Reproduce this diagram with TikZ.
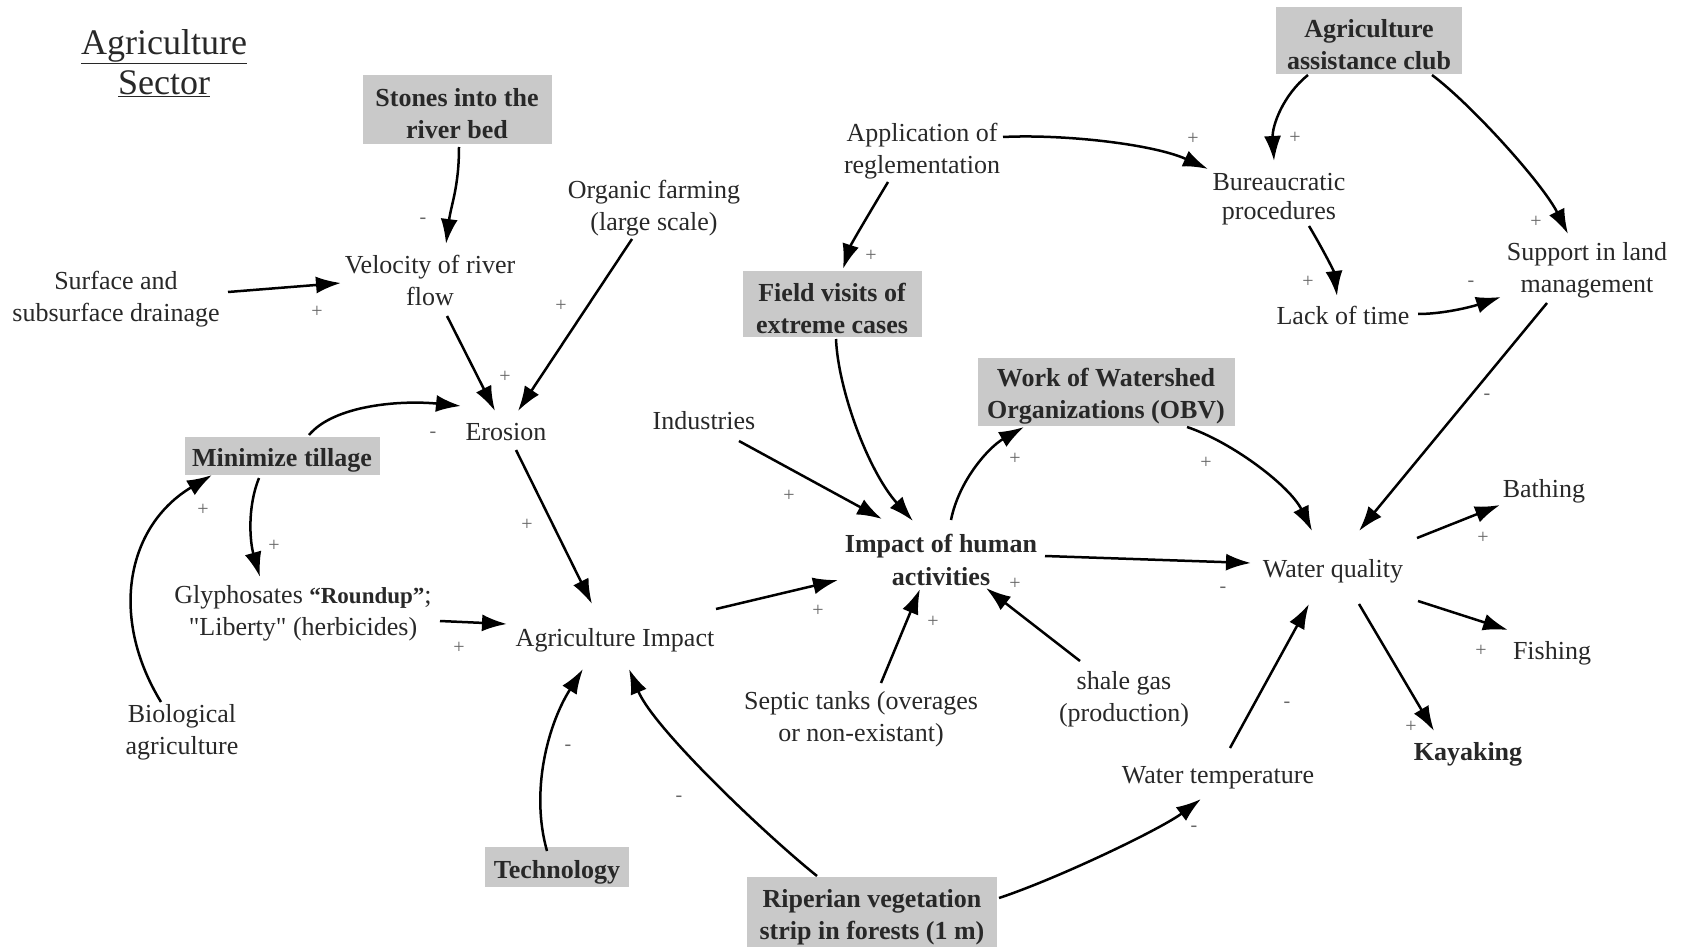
\documentclass[tikz,border=0pt]{standalone}
\usepackage{fontspec}
\setmainfont{Liberation Serif}[Ligatures=TeXOff]
\usetikzlibrary{arrows.meta,calc}
\definecolor{boxgray}{RGB}{201,201,201}
\definecolor{txt}{RGB}{40,40,40}
\tikzset{
  lbl/.style={align=center, inner sep=0pt, text=txt, font=\fontsize{26}{32}\selectfont},
  gbox/.style={inner sep=0pt, fill=boxgray},
  gtxt/.style={align=center, inner sep=0pt, text=txt, font=\fontsize{26}{32}\selectfont\bfseries, yshift=-4pt},
  arr/.style={-{Latex[length=25pt,width=17pt]}, line width=2.5pt, black},
  pol/.style={inner sep=0pt, text=black!60, font=\fontsize{20}{20}\selectfont},
}
\begin{document}
\begin{tikzpicture}[x=1pt,y=-1pt]
\useasboundingbox (0,0) rectangle (1681,947);
\fill[white] (0,0) rectangle (1681,947);

% title
\node[lbl, font=\fontsize{36}{40}\selectfont] (title) at (164,63) {\underline{Agriculture}\\\underline{Sector}};

% gray boxes
\node[gbox, minimum width=189, minimum height=69, label={[gtxt]center:{Stones into the\\river bed}}] (stones) at (457,110) {};
\node[gbox, minimum width=195, minimum height=38, label={[gtxt]center:{Minimize tillage}}] (mt) at (282,456) {};
\node[gbox, minimum width=179, minimum height=66, label={[gtxt]center:{Field visits of\\extreme cases}}] (field) at (832,304) {};
\node[gbox, minimum width=257, minimum height=68, label={[gtxt]center:{Work of Watershed\\Organizations (OBV)}}] (work) at (1106,392) {};
\node[gbox, minimum width=186, minimum height=67, label={[gtxt]center:{Agriculture\\assistance club}}] (club) at (1369,41) {};
\node[gbox, minimum width=144, minimum height=40, label={[gtxt,yshift=-1pt]center:{Technology}}] (tech) at (557,867) {};
\node[gbox, minimum width=250, minimum height=72, label={[gtxt]center:{Riperian vegetation\\strip in forests (1 m)}}] (rip) at (872,913) {};

% plain labels
\node[lbl] (surf) at (116,299) {Surface and\\subsurface drainage};
\node[lbl] (vel) at (430,280) {Velocity of river\\flow};
\node[lbl] (org) at (654,208) {Organic farming\\(large scale)};
\node[lbl] (ero) at (506,432) {Erosion};
\node[lbl] (ind) at (704,421) {Industries};
\node[lbl] (gly) at (303,613) {Glyphosates {\fontsize{23}{32}\selectfont\bfseries “Roundup”};\\"Liberty" (herbicides)};
\node[lbl] (agi) at (615,640) {Agriculture Impact};
\node[lbl] (bio) at (182,732) {Biological\\agriculture};
\node[lbl] (app) at (922,151) {Application of\\reglementation};
\node[lbl, font=\fontsize{26}{29}\selectfont] (bur) at (1279,199) {Bureaucratic\\procedures};
\node[lbl] (lack) at (1343,315) {Lack of time};
\node[lbl] (sup) at (1587,270) {Support in land\\management};
\node[lbl, font=\fontsize{26}{33}\selectfont\bfseries] (imp) at (941,560) {Impact of human\\activities};
\node[lbl] (wq) at (1333,571) {Water quality};
\node[lbl] (bath) at (1544,491) {Bathing};
\node[lbl] (fish) at (1552,653) {Fishing};
\node[lbl, font=\fontsize{26}{32}\selectfont\bfseries] (kay) at (1468,754) {Kayaking};
\node[lbl] (sep) at (861,719) {Septic tanks (overages\\or non-existant)};
\node[lbl] (shale) at (1124,699) {shale gas\\(production)};
\node[lbl] (wt) at (1218,778) {Water temperature};

% connectors
\draw[arr] ($(stones)+(2,37)$) .. controls ($(stones)+(2,77)$) and ($(vel)+(21,-75)$) .. ($(vel)+(16,-36)$);
\draw[arr] ($(surf)+(112,-7)$) -- ($(vel)+(-89,3)$);
\draw[arr] ($(vel)+(17,36)$) -- ($(ero)+(-11,-21)$);
\draw[arr] ($(org)+(-22,31)$) -- ($(ero)+(12,-21)$);
\draw[arr] ($(mt)+(27,-21)$) .. controls ($(mt)+(52,-51)$) and ($(ero)+(-105,-32)$) .. ($(ero)+(-45,-26)$);
\draw[arr] ($(mt)+(-23,22)$) .. controls ($(mt)+(-35,52)$) and ($(gly)+(-53,-71)$) .. ($(gly)+(-43,-36)$);
\draw[arr] ($(bio)+(-21,-30)$) .. controls ($(bio)+(-74,-117)$) and ($(mt)+(-154,69)$) .. ($(mt)+(-70,19)$);
\draw[arr] ($(ero)+(10,18)$) -- ($(agi)+(-23,-36)$);
\draw[arr] ($(gly)+(137,8)$) -- ($(agi)+(-108,-16)$);
\draw[arr] ($(tech)+(-10,-16)$) .. controls ($(tech)+(-27,-76)$) and ($(agi)+(-67,84)$) .. ($(agi)+(-32,29)$);
\draw[arr] ($(rip)+(-55,-37)$) .. controls ($(rip)+(-105,-77)$) and ($(agi)+(39,89)$) .. ($(agi)+(14,29)$);
\draw[arr] ($(agi)+(101,-31)$) -- ($(imp)+(-103,20)$);
\draw[arr] ($(ind)+(35,20)$) -- ($(imp)+(-59,-41)$);
\draw[arr] ($(field)+(4,35)$) .. controls ($(field)+(6,85)$) and ($(imp)+(-73,-89)$) .. ($(imp)+(-28,-39)$);
\draw[arr] ($(sep)+(20,-36)$) -- ($(imp)+(-21,29)$);
\draw[arr] ($(shale)+(-44,-38)$) -- ($(imp)+(45,28)$);
\draw[arr] ($(imp)+(10,-40)$) .. controls ($(imp)+(18,-80)$) and ($(work)+(-117,55)$) .. ($(work)+(-82,35)$);
\draw[arr] ($(work)+(81,35)$) .. controls ($(work)+(126,50)$) and ($(wq)+(-43,-85)$) .. ($(wq)+(-21,-40)$);
\draw[arr] ($(imp)+(104,-4)$) -- ($(wq)+(-82,-8)$);
\draw[arr] ($(sup)+(-40,33)$) -- ($(wq)+(26,-40)$);
\draw[arr] ($(wt)+(12,-30)$) -- ($(wq)+(-24,33)$);
\draw[arr] ($(rip)+(127,-15)$) .. controls ($(rip)+(187,-35)$) and ($(wt)+(-57,51)$) .. ($(wt)+(-17,21)$);
\draw[arr] ($(wq)+(84,-33)$) -- ($(bath)+(-44,14)$);
\draw[arr] ($(wq)+(85,30)$) -- ($(fish)+(-44,-23)$);
\draw[arr] ($(wq)+(26,33)$) -- ($(kay)+(-34,-23)$);
\draw[arr] ($(app)+(81,-14)$) .. controls ($(app)+(141,-17)$) and ($(bur)+(-126,-55)$) .. ($(bur)+(-71,-30)$);
\draw[arr] ($(app)+(-34,31)$) .. controls ($(app)+(-49,56)$) and ($(field)+(19,-60)$) .. ($(field)+(11,-35)$);
\draw[arr] ($(club)+(-61,34)$) .. controls ($(club)+(-86,54)$) and ($(bur)+(-7,-73)$) .. ($(bur)+(-5,-38)$);
\draw[arr] ($(club)+(63,34)$) .. controls ($(club)+(103,64)$) and ($(sup)+(-44,-86)$) .. ($(sup)+(-19,-36)$);
\draw[arr] ($(bur)+(30,27)$) .. controls ($(bur)+(42,47)$) and ($(lack)+(-9,-44)$) .. ($(lack)+(-6,-19)$);
\draw[arr] ($(lack)+(75,-1)$) .. controls ($(lack)+(100,-1)$) and ($(sup)+(-116,37)$) .. ($(sup)+(-86,27)$);

% polarity signs
\node[pol] (p1) at (423,221) {-};
\node[pol] (p2) at (317,312) {+};
\node[pol] (p3) at (505,377) {+};
\node[pol] (p4) at (561,306) {+};
\node[pol] (p5) at (433,435) {-};
\node[pol] (p6) at (274,546) {+};
\node[pol] (p7) at (203,510) {+};
\node[pol] (p8) at (527,525) {+};
\node[pol] (p9) at (459,648) {+};
\node[pol] (p10) at (568,748) {-};
\node[pol] (p11) at (679,799) {-};
\node[pol] (p12) at (818,611) {+};
\node[pol] (p13) at (789,496) {+};
\node[pol] (p15) at (933,622) {+};
\node[pol] (p16) at (1015,584) {+};
\node[pol] (p17) at (1015,459) {+};
\node[pol] (p18) at (1206,463) {+};
\node[pol] (p19) at (1223,590) {-};
\node[pol] (p20) at (1487,397) {-};
\node[pol] (p21) at (1287,705) {-};
\node[pol] (p22) at (1194,829) {-};
\node[pol] (p23) at (1483,538) {+};
\node[pol] (p24) at (1481,651) {+};
\node[pol] (p25) at (1411,727) {+};
\node[pol] (p26) at (1193,139) {+};
\node[pol] (p27) at (871,256) {+};
\node[pol] (p28) at (1295,138) {+};
\node[pol] (p29) at (1536,222) {+};
\node[pol] (p30) at (1308,282) {+};
\node[pol] (p31) at (1471,284) {-};
\end{tikzpicture}
\end{document}
